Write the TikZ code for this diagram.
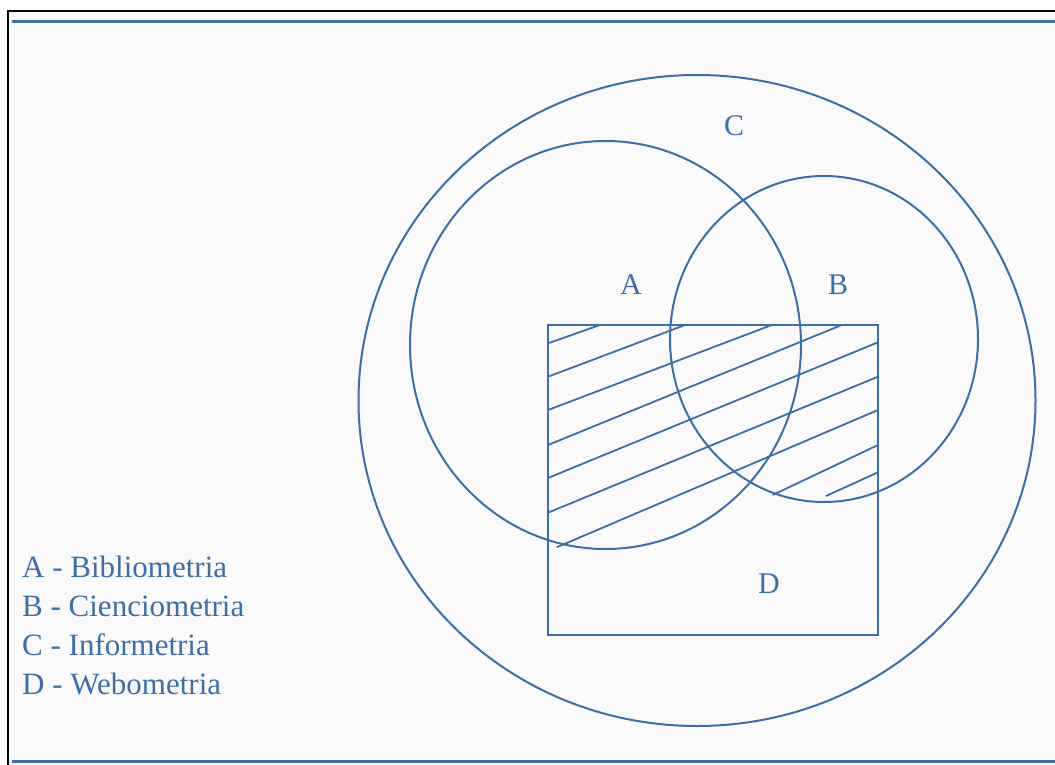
\documentclass[tikz,border=0pt]{standalone}
\usepackage{fontspec}
\setmainfont{Liberation Serif}
\usepackage{tikz}
\usetikzlibrary{positioning}
\definecolor{setblue}{HTML}{3D6FA6}
\definecolor{paper}{HTML}{FAFAFA}

\begin{document}
\begin{tikzpicture}[
  x=1pt, y=-1pt,
  venn/.style={draw=setblue, line width=2pt},
  hatch/.style={draw=setblue, line width=1.8pt},
  rule/.style={draw=setblue, line width=3pt},
  lbl/.style={text=setblue, font=\fontsize{30}{36}\selectfont, anchor=base, inner sep=0pt},
  legend/.style={text=setblue, font=\fontsize{31}{36}\selectfont, anchor=base west, inner sep=0pt},
]
\useasboundingbox (0,0) rectangle (1055,765);

% === FRAME ===
\fill[white] (0,0) rectangle (1055,765);
\fill[paper] (8,11) rectangle (1055,765);
\draw[black, line width=2pt] (8,765) -- (8,11) -- (1055,11);
\draw[rule] (12,21.5) -- (1055,21.5);
\draw[rule] (12,761) -- (1055,761);

% === SETS ===
\draw[venn] (697,400.5) ellipse [x radius=338.5pt, y radius=325.5pt]; % C
\draw[venn] (605.5,345) ellipse [x radius=195.5pt, y radius=204pt];   % A
\draw[venn] (824,339) ellipse [x radius=154pt, y radius=163pt];       % B
\draw[venn] (548,325) rectangle (878,635);                           % D

% Hatching
\draw[hatch]
  (548,343.3) -- (600,325)
  (548,376.7) -- (685,325)
  (548,410) -- (771.7,325)
  (548,445) -- (841.7,325)
  (548,478) -- (878,342.3)
  (548,512.7) -- (878,376.7)
  (556.7,547.3) -- (878,410)
  (772.7,495) -- (878,445)
  (826,496) -- (878,472.3);

% === LABELS ===
\node[lbl] (labC) at (734,136) {C};
\node[lbl] (labA) at (631,294) {A};
\node[lbl] (labB) at (838,294) {B};
\node[lbl] (labD) at (769,593) {D};

% === LEGEND ===
\node[legend] (legA) at (22,577) {A - Bibliometria};
\node[legend] (legB) at (22,616) {B - Cienciometria};
\node[legend] (legC) at (22,655) {C - Informetria};
\node[legend] (legD) at (22,694) {D - Webometria};

\end{tikzpicture}
\end{document}
